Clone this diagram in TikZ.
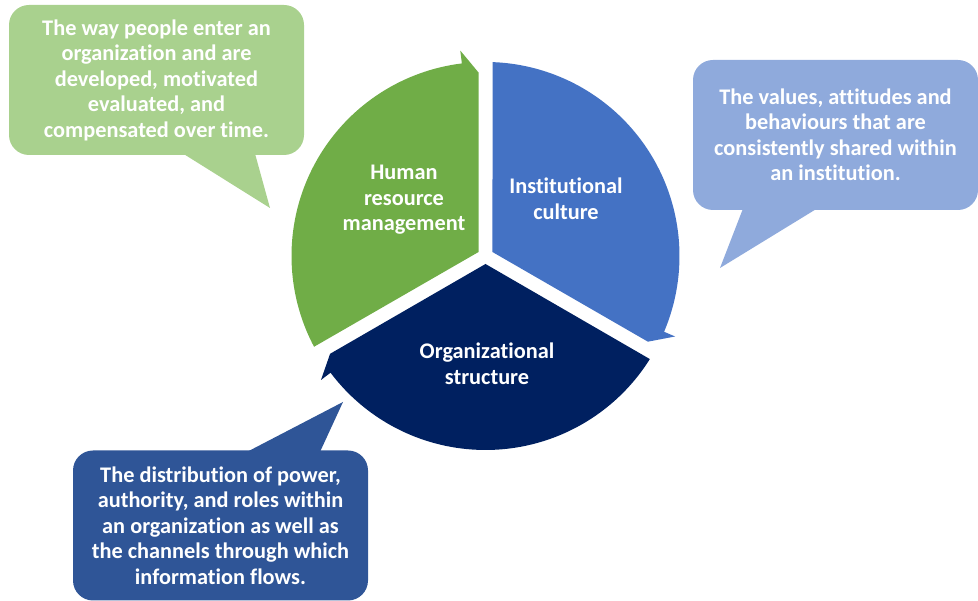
\documentclass[tikz,border=0pt]{standalone}
\usepackage{fontspec}
\setmainfont[Ligatures={NoCommon,NoContextual}]{Carlito}
\usetikzlibrary{calc}
\definecolor{hrmgreen}{HTML}{70AD47}
\definecolor{hrmlight}{HTML}{A9D18E}
\definecolor{culblue}{HTML}{4472C4}
\definecolor{cullight}{HTML}{8FAADC}
\definecolor{orgnavy}{HTML}{002060}
\definecolor{orgnote}{HTML}{2F5597}

\begin{document}
\begin{tikzpicture}[
    seglabel/.style={text=white, font=\bfseries\fontsize{12.7}{14.5}\selectfont, align=center},
    notebox/.style={seglabel, rounded corners=0.4cm, minimum width=5.9cm, minimum height=3cm}]
    \useasboundingbox (0,0) rectangle (19.56,12.02);
    \coordinate (c) at (9.71,6.90);

    \fill[hrmgreen] ($(c)+(150:0.16)$) -- ($(c)+(207.9:3.88)$) arc[start angle=207.9, end angle=97, radius=3.88] -- ($(c)+(97:4.14)$) -- ($(c)+(90:3.67)+(180:0.14)$) -- cycle;
    \fill[culblue] ($(c)+(30:0.16)$) -- ($(c)+(87.9:3.88)$) arc[start angle=87.9, end angle=-23, radius=3.88] -- ($(c)+(-23:4.12)$) -- ($(c)+(-30:3.67)+(60:0.14)$) -- cycle;
    \fill[orgnavy] ($(c)+(-90:0.16)$) -- ($(c)+(-32.1:3.88)$) arc[start angle=-32.1, end angle=-143, radius=3.88] -- ($(c)+(-143:4.12)$) -- ($(c)+(-150:3.67)+(-60:0.14)$) -- cycle;

    \node[seglabel] (hrm) at (8.08,8.02) {Human\\resource\\management};
    \node[seglabel] (cul) at (11.32,8.04) {Institutional\\culture};
    \node[seglabel] (org) at (9.74,4.74) {Organizational\\structure};

    \node[notebox, fill=hrmlight] (hrmnote) at (3.13,10.42) {The way people enter an\\organization and are\\developed, motivated\\evaluated, and\\compensated over time.};
    \coordinate (hrmtip) at (5.40,7.86);
    \fill[hrmlight] ([xshift=0.53cm, yshift=1pt]hrmnote.south) -- ([xshift=1.97cm, yshift=1pt]hrmnote.south) -- (hrmtip) -- cycle;

    \node[notebox, fill=cullight, minimum width=5.7cm] (culnote) at (16.71,9.32) {The values, attitudes and\\behaviours that are\\consistently shared within\\an institution.};
    \coordinate (cultip) at (14.40,6.66);
    \fill[cullight] ([xshift=-1.85cm, yshift=1pt]culnote.south) -- ([xshift=-0.37cm, yshift=1pt]culnote.south) -- (cultip) -- cycle;

    \node[notebox, fill=orgnote] (orgnote) at (4.41,1.51) {The distribution of power,\\authority, and roles within\\an organization as well as\\the channels through which\\information flows.};
    \coordinate (orgtip) at (6.86,3.98);
    \fill[orgnote] ([xshift=0.53cm, yshift=-1pt]orgnote.north) -- ([xshift=1.99cm, yshift=-1pt]orgnote.north) -- (orgtip) -- cycle;

\end{tikzpicture}
\end{document}
